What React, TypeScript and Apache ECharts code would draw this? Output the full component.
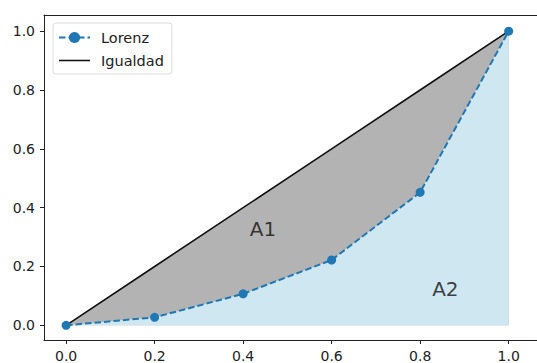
import React, { useEffect, useRef } from "react";
import * as echarts from "echarts";

const populationShare = [0, 0.2, 0.4, 0.6, 0.8, 1.0];
const lorenzValues = [0, 0.027, 0.107, 0.222, 0.452, 1.0];
const equalityValues = [0, 0.2, 0.4, 0.6, 0.8, 1.0];
const tickValues = [0, 0.2, 0.4, 0.6, 0.8, 1.0];
const annotationLabels = ["A1", "A2"];
const annotationX = [0.445, 0.857];
const annotationY = [0.327, 0.124];

const FONT = "DejaVu Sans";

export default function App() {
  const ref = useRef<HTMLDivElement>(null);

  useEffect(() => {
    if (!ref.current) return;
    const chart = echarts.init(ref.current, undefined, { renderer: "svg" });

    const lorenz = populationShare.map((x, i) => [x, lorenzValues[i]]);
    const equality = populationShare.map((x, i) => [x, equalityValues[i]]);
    const annotations = annotationLabels.map((t, i) => [annotationX[i], annotationY[i], t]);

    const axisCommon = {
      type: "value" as const,
      splitLine: { show: false },
      axisLine: { show: true, onZero: false, lineStyle: { color: "#222", width: 1 } },
      axisTick: {
        show: true,
        length: 4,
        customValues: tickValues,
        lineStyle: { color: "#222", width: 1 },
      },
      axisLabel: {
        customValues: tickValues,
        formatter: (v: number) => v.toFixed(1),
        color: "#222",
        fontFamily: FONT,
        fontSize: 14,
        margin: 9,
      },
    };

    chart.setOption({
      animation: false,
      backgroundColor: "#fff",
      grid: { left: 44, top: 15, right: 7.1, bottom: 21.3, show: false },
      xAxis: [
        { ...axisCommon, min: -0.05, max: 1.1, position: "bottom" },
        {
          type: "value",
          min: -0.05,
          max: 1.1,
          position: "top",
          axisLine: { show: true, onZero: false, lineStyle: { color: "#222", width: 1 } },
          axisTick: { show: false },
          axisLabel: { show: false },
          splitLine: { show: false },
        },
      ],
      yAxis: { ...axisCommon, min: -0.05, max: 1.055 },
      legend: {
        data: [
          { name: "Lorenz" },
          { name: "Igualdad", icon: "path://M0,0H20V1H0Z" },
        ],
        orient: "vertical",
        left: 53,
        top: 23,
        padding: [7, 8, 6, 5],
        itemGap: 8,
        itemWidth: 31,
        itemHeight: 14,
        borderColor: "#ddd",
        borderWidth: 1,
        borderRadius: 3,
        backgroundColor: "rgba(255,255,255,0.8)",
        textStyle: { fontFamily: FONT, fontSize: 14.5, color: "#222", padding: [0, 0, 0, 6] },
      },
      series: [
        {
          name: "fillA1",
          type: "line",
          data: equality,
          symbol: "none",
          lineStyle: { width: 0 },
          areaStyle: { color: "#b3b3b3", opacity: 1 },
          z: 1,
        },
        {
          name: "fillA2",
          type: "line",
          data: lorenz,
          symbol: "none",
          lineStyle: { width: 0 },
          areaStyle: { color: "#cee7f0", opacity: 1 },
          z: 2,
        },
        {
          name: "Igualdad",
          type: "line",
          data: equality,
          symbol: "none",
          color: "#111",
          lineStyle: { color: "#111", width: 1.6 },
          z: 3,
        },
        {
          name: "Lorenz",
          type: "line",
          data: lorenz,
          symbol: "circle",
          symbolSize: 9,
          color: "#1f77b4",
          itemStyle: { color: "#1f77b4" },
          lineStyle: { color: "#1f77b4", width: 2, type: [6.5, 3] },
          z: 4,
        },
        {
          name: "annotations",
          type: "scatter",
          data: annotations,
          symbolSize: 1,
          itemStyle: { color: "transparent" },
          label: {
            show: true,
            position: "inside",
            formatter: (p: any) => p.value[2],
            fontFamily: FONT,
            fontSize: 20,
            color: "#111",
          },
          z: 5,
        },
      ],
    });

    return () => chart.dispose();
  }, []);

  return (
    <div
      ref={ref}
      style={{ position: "fixed", left: 0, top: 0, width: 560, height: 363 }}
    />
  );
}
